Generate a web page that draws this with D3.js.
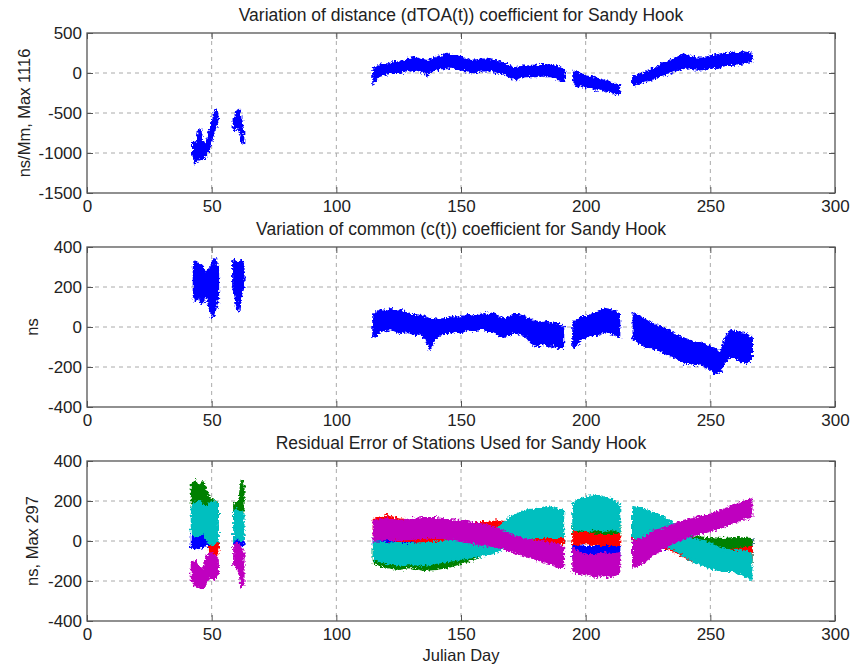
<!DOCTYPE html>
<html>
<head>
<meta charset="utf-8">
<script src="https://cdn.jsdelivr.net/npm/d3@7"></script>
<style>
  body { margin: 0; background: #fff; }
  text { font-family: "Liberation Sans", Arial, sans-serif; fill: #222; }
</style>
</head>
<body>
<svg id="chart"></svg>
<script>
// tick labels
const dayTicks = [0, 50, 100, 150, 200, 250, 300];
const distTicks = [-1500, -1000, -500, 0, 500];
const nsTicks = [-400, -200, 0, 200, 400];

// each series = list of segments, each segment = [day, low, high]
const dtoa = [
  [[42.5,-1000,-860],[43.3,-1130,-880],[44.0,-1100,-900],[44.8,-1050,-720],[45.5,-1090,-700],[46.3,-1070,-880],
   [47.2,-1060,-900],[48.0,-1000,-860],[48.8,-950,-760],[49.6,-900,-680],[50.4,-780,-600],[51.2,-700,-500],
   [51.9,-680,-470],[52.3,-600,-520]],
  [[58.8,-700,-580],[59.5,-720,-560],[60.3,-660,-470],[61.0,-700,-460],[61.6,-780,-560],[62.2,-860,-640],[62.7,-880,-720]],
  [[114.8,-140,40],[115.5,-90,60],[117,-40,90],[119,-20,110],[121,0,110],[123,0,140],[125,0,130],[127,20,150],
   [129,40,170],[131,20,200],[133,40,170],[135,10,160],[136.5,-30,150],[138,30,170],[140,40,190],[142,60,210],
   [144,60,240],[146,80,220],[148,60,210],[150,40,200],[152,30,170],[154,10,150],[156,10,160],[158,30,170],
   [160,30,170],[162,30,160],[164,10,150],[166,0,130],[168,-20,110],[170,-60,70],[172,-80,60],[174,-50,80],
   [176,-40,80],[178,-40,90],[180,-40,90],[182,-30,100],[184,-40,100],[186,-40,90],[188,-60,80],[190,-100,70],[191.5,-100,20]],
  [[195,-100,20],[196.5,-170,10],[198,-150,-10],[200,-180,-40],[202,-170,-50],[204,-210,-70],[206,-190,-80],
   [208,-230,-100],[210,-220,-120],[212,-270,-140],[213.5,-240,-160]],
  [[219,-150,-50],[221,-130,-30],[223,-110,-10],[225,-90,30],[227,-80,50],[229,-40,70],[231,-20,110],[233,-10,140],
   [235,20,170],[237,40,200],[239,60,230],[241,70,220],[243,50,190],[245,40,180],[247,50,180],[249,60,200],
   [251,70,220],[253,60,225],[255,90,240],[257,100,235],[259,100,260],[261,110,245],[263,120,260],[265,140,250],[266.5,150,240]]
];

const common = [
  [[42.8,150,300],[43.5,130,330],[44.3,140,320],[45.0,160,300],[45.8,120,310],[46.6,130,300],[47.3,160,270],
   [48.2,150,260],[49.0,100,290],[49.8,70,300],[50.5,50,330],[51.3,80,340],[52.0,110,320],[52.6,150,280]],
  [[58.6,200,330],[59.3,170,335],[60.0,110,330],[60.7,80,320],[61.4,140,330],[62.1,170,330],[62.8,200,310]],
  [[114.8,-50,60],[116,-40,75],[118,-20,85],[120,-15,80],[122,-10,90],[124,-20,80],[126,-30,85],[128,-20,70],
   [130,-30,60],[132,-40,60],[134,-30,55],[136,-60,45],[137.5,-115,40],[139,-70,40],[141,-40,35],[143,-30,40],
   [145,-30,40],[147,-20,50],[149,-30,40],[151,-20,55],[153,-10,60],[155,-20,50],[157,-10,60],[159,-10,65],
   [161,-20,60],[163,-20,70],[165,-40,50],[167,-50,40],[169,-40,45],[171,-30,60],[173,-30,60],[175,-40,55],
   [177,-60,40],[179,-90,30],[181,-95,25],[183,-80,20],[185,-100,25],[187,-90,15],[189,-105,15],[191,-100,0]],
  [[195,-100,20],[196.5,-90,30],[198,-60,50],[200,-50,50],[202,-40,60],[204,-40,70],[206,-30,85],[208,-20,90],
   [210,-30,85],[212,-40,80],[213.5,-50,60]],
  [[219.2,-60,70],[220.5,-70,60],[222,-80,50],[224,-100,35],[226,-100,20],[228,-110,10],[230,-120,0],[232,-130,-10],
   [234,-140,-20],[236,-150,-40],[238,-170,-50],[240,-180,-60],[242,-180,-70],[244,-190,-80],[246,-180,-80],
   [248,-200,-90],[250,-210,-100],[252,-230,-110],[254,-220,-130],[255.5,-190,-80],[256.5,-160,-40],[258,-150,-20],
   [260,-150,-25],[262,-170,-30],[264,-180,-35],[265.5,-170,-45],[266.7,-150,-60]]
];

const residBlue = [
  [[42,-30,30],[44,-40,20],[46,-30,30],[48,-20,30],[49.5,-30,20]],
  [[59,-20,30],[60.5,-30,20],[62,-20,30],[62.8,-20,20]],
  [[115,-15,25],[130,-15,25],[140,-10,30],[150,-10,30],[160,0,30],[170,0,20],[180,-10,20],[191,-10,20]],
  [[195,-80,-20],[200,-90,-30],[205,-90,-30],[210,-90,-30],[213.5,-80,-30]],
  [[219,-50,-5],[223,-50,-10],[227,-40,0],[231,-40,0],[240,-40,10],[250,-30,10],[260,-30,10],[266.5,-30,10]]
];
const residGreen = [
  [[42,170,280],[43.5,180,300],[45,160,270],[46.5,180,300],[48,140,250],[49.5,130,210],[51,120,200],[52.5,110,190]],
  [[59,110,180],[60,120,190],[61,120,200],[62,140,300],[62.8,150,280]],
  [[115,-110,-40],[120,-130,-50],[125,-140,-50],[130,-130,-60],[135,-145,-60],[140,-140,-60],[145,-130,-60],
   [150,-110,-50],[155,-90,-40],[160,-60,-20],[165,-40,0],[170,-20,20],[175,-10,40],[180,-20,40],[185,-20,50],[191,-10,40]],
  [[195,30,80],[200,40,90],[205,40,100],[210,30,90],[213.5,30,80]],
  [[219,20,80],[225,20,70],[231,0,50],[237,-20,30],[243,-40,20],[249,-70,15],[255,-90,10],[261,-100,15],[266.5,-110,10]]
];
const residRed = [
  [[49.3,-60,10],[50.5,-80,20],[52,-70,0],[52.8,-40,-10]],
  [],
  [[115,20,110],[120,10,125],[125,0,110],[130,0,100],[135,-10,90],[140,0,80],[145,0,80],[150,10,80],[155,20,90],
   [160,30,90],[165,40,100],[170,30,90],[175,10,60],[180,0,40],[185,-10,30],[191,-10,30]],
  [[195,-20,40],[200,-10,40],[205,-20,30],[210,-20,30],[213.5,-20,30]],
  [[219,-20,20],[225,-20,20],[231,-30,10],[237,-60,-10],[243,-100,-40],[249,-120,-50],[255,-120,-50],[261,-110,-40],[266.5,-100,-30]]
];
const residCyan = [
  [[42,40,180],[43.5,20,190],[45,30,200],[46.5,40,180],[48,10,170],[49.5,-20,190],[51,-10,200],[52.5,0,180]],
  [[59,0,150],[60,20,160],[61,10,140],[62,0,150],[62.8,10,130]],
  [[115,-90,-5],[120,-110,-10],[125,-120,-15],[130,-115,-15],[135,-120,-10],[140,-110,-10],[145,-100,0],[150,-90,0],
   [155,-80,20],[160,-70,40],[165,-50,70],[170,-10,120],[175,10,150],[180,20,160],[185,20,170],[191,20,150]],
  [[195,50,190],[198,60,210],[201,50,220],[204,60,230],[207,50,220],[210,60,210],[213.5,50,180]],
  [[219,20,170],[223,10,160],[227,0,140],[231,-20,120],[235,-40,90],[239,-70,40],[243,-100,10],[247,-120,0],
   [251,-140,-20],[255,-150,-40],[259,-150,-50],[263,-170,-50],[266.5,-190,-60]]
];
const residMagenta = [
  [[42,-200,-110],[43.5,-220,-100],[45,-230,-130],[46.5,-240,-140],[48,-200,-80],[49.5,-180,-60],[51,-190,-70],[52.5,-170,-90]],
  [[59,-120,-20],[60,-130,-10],[61,-150,-20],[62,-230,-40],[62.8,-220,-60]],
  [[115,0,100],[120,10,110],[125,5,100],[130,10,110],[135,15,115],[140,20,115],[145,10,105],[150,0,100],
   [155,-10,90],[160,-20,80],[165,-30,60],[170,-50,30],[175,-70,10],[180,-90,0],[185,-110,-10],[189,-130,-20],[191,-130,-30]],
  [[195,-150,-40],[198,-170,-60],[201,-160,-70],[204,-180,-70],[207,-170,-60],[210,-180,-70],[213.5,-160,-60]],
  [[219,-130,0],[223,-110,10],[227,-70,50],[231,-40,60],[235,-10,80],[239,10,100],[243,30,110],[247,40,125],
   [251,55,135],[255,70,155],[259,90,175],[263,110,195],[266.5,120,210]]
];

const width = 852, height = 670;
const left = 87, right = 835;
const tickFs = 17, titleFs = 17.5, labelFs = 16.5;

const svg = d3.select("#chart").attr("width", width).attr("height", height);

// roughen band edges so they read like dense point clouds
const filt = svg.append("defs").append("filter").attr("id", "rough")
  .attr("x", "-5%").attr("y", "-20%").attr("width", "110%").attr("height", "140%");
filt.append("feTurbulence").attr("type", "fractalNoise").attr("baseFrequency", 0.45)
  .attr("numOctaves", 2).attr("seed", 3).attr("result", "noise");
filt.append("feDisplacementMap").attr("in", "SourceGraphic").attr("in2", "noise")
  .attr("scale", 6).attr("xChannelSelector", "R").attr("yChannelSelector", "G");

const x = d3.scaleLinear().domain([0, 300]).range([left, right]);
const fmt = d => String(d);

const panels = [
  { top: 33, bottom: 193, domain: [-1500, 500], ticks: distTicks,
    title: "Variation of distance (dTOA(t)) coefficient for Sandy Hook", ylabel: "ns/Mm, Max 1116", lx: 30,
    series: [{ color: "#0000ff", segs: dtoa }] },
  { top: 247, bottom: 407, domain: [-400, 400], ticks: nsTicks,
    title: "Variation of common (c(t)) coefficient for Sandy Hook", ylabel: "ns", lx: 38,
    series: [{ color: "#0000ff", segs: common }] },
  { top: 461, bottom: 621, domain: [-400, 400], ticks: nsTicks,
    title: "Residual Error of Stations Used for Sandy Hook", ylabel: "ns, Max 297", lx: 38,
    series: [
      { color: "#0000ff", segs: residBlue },
      { color: "#008000", segs: residGreen },
      { color: "#ff0000", segs: residRed },
      { color: "#00bfbf", segs: residCyan },
      { color: "#bf00bf", segs: residMagenta }
    ] }
];

panels.forEach(p => {
  const y = d3.scaleLinear().domain(p.domain).range([p.bottom, p.top]);
  const g = svg.append("g");

  // grid
  g.selectAll("line.gx").data(dayTicks.slice(1, -1)).enter().append("line")
    .attr("x1", d => x(d)).attr("x2", d => x(d)).attr("y1", p.top).attr("y2", p.bottom)
    .attr("stroke", "#aaa").attr("stroke-dasharray", "4,4");
  g.selectAll("line.gy").data(p.ticks.slice(1, -1)).enter().append("line")
    .attr("y1", d => y(d)).attr("y2", d => y(d)).attr("x1", left).attr("x2", right)
    .attr("stroke", "#aaa").attr("stroke-dasharray", "4,4");

  // data bands
  const area = d3.area().x(d => x(d[0])).y0(d => y(d[1])).y1(d => y(d[2]));
  const dg = g.append("g").attr("filter", "url(#rough)");
  p.series.forEach(s => {
    s.segs.filter(seg => seg.length).forEach(seg => {
      dg.append("path").attr("d", area(seg))
        .attr("fill", s.color).attr("stroke", s.color)
        .attr("stroke-width", 2).attr("stroke-linejoin", "round");
    });
  });

  // axes
  g.append("g").attr("transform", `translate(0,${p.bottom})`)
    .call(d3.axisBottom(x).tickValues(dayTicks).tickSize(-6).tickPadding(7).tickFormat(fmt));
  g.append("g").attr("transform", `translate(0,${p.top})`)
    .call(d3.axisTop(x).tickValues(dayTicks).tickSize(-6).tickFormat(""));
  g.append("g").attr("transform", `translate(${left},0)`)
    .call(d3.axisLeft(y).tickValues(p.ticks).tickSize(-6).tickPadding(5).tickFormat(fmt));
  g.append("g").attr("transform", `translate(${right},0)`)
    .call(d3.axisRight(y).tickValues(p.ticks).tickSize(-6).tickFormat(""));
  g.selectAll(".domain").remove();
  g.selectAll(".tick line").attr("stroke", "#555");
  g.selectAll(".tick text").style("font-size", tickFs + "px").attr("fill", "#222")
    .style("font-family", '"Liberation Sans", Arial, sans-serif');

  g.append("rect").attr("x", left).attr("y", p.top)
    .attr("width", right - left).attr("height", p.bottom - p.top)
    .attr("fill", "none").attr("stroke", "#555").attr("stroke-width", 1.3);

  // title and y label
  g.append("text").attr("x", (left + right) / 2).attr("y", p.top - 12)
    .attr("text-anchor", "middle").style("font-size", titleFs + "px").text(p.title);
  g.append("text").attr("transform", `translate(${p.lx},${(p.top + p.bottom) / 2}) rotate(-90)`)
    .attr("text-anchor", "middle").style("font-size", labelFs + "px").text(p.ylabel);
});

svg.append("text").attr("x", (left + right) / 2).attr("y", 661)
  .attr("text-anchor", "middle").style("font-size", labelFs + "px").text("Julian Day");
</script>
</body>
</html>
